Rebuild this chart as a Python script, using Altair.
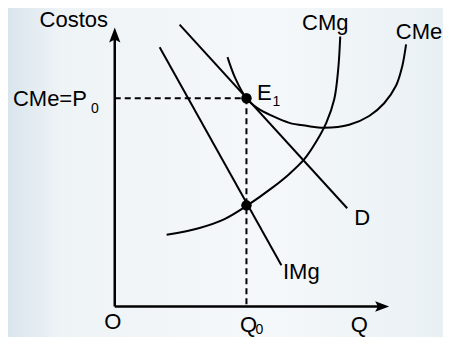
import altair as alt
import pandas as pd

W, H = 435, 329
X_DOM = [-107, 328]
Y_DOM = [-25, 304]

# axes (origin at 0,0), arrow heads
axis_name = ["yaxis", "yaxis", "xaxis", "xaxis"]
axis_x = [0, 0, 0, 268]
axis_y = [0, 277, 0, 0]
arrow_up = {"x": [0], "y": [276.5]}
arrow_right = {"x": [268], "y": [0]}

# demand and marginal revenue (straight lines)
d_x = [65, 233]
d_y = [287, 100]
img_x = [45, 167]
img_y = [264, 42]

# marginal cost curve
cmg_x = [52, 85, 110, 133, 158, 175, 190, 202, 212, 220, 224, 226]
cmg_y = [73, 80, 89, 103, 121, 135, 150, 168, 187, 211, 242, 275]

# average cost curve
cme_x = [113, 121, 132, 143, 158, 175, 192, 210, 235, 255, 270, 282, 288, 292]
cme_y = [254, 232, 212, 202, 194, 187, 184, 182, 185, 194, 207, 225, 244, 267]

# equilibrium values
q0 = 132
p0 = 212
img_at_q0 = 103

dash_name = ["h", "h", "v", "v"]
dash_x = [0, q0, q0, q0]
dash_y = [p0, p0, p0, 0]

dots_x = [q0, q0]
dots_y = [p0, img_at_q0]

label_text = ["Costos", "CMe=P", "0", "E", "1", "CMg", "CMe", "D", "IMg", "O", "Q", "0", "Q"]
label_x = [-41, -65, -20, 150, 162, 211, 305, 248, 187, -2, 134, 145, 245]
label_y = [292, 211, 201, 217, 208, 289, 280, 90, 35, -16, -19, -24, -19]
label_size = [22, 22, 14, 22, 14, 22, 22, 22, 22, 22, 22, 14, 22]

FONT = "Liberation Sans"

xs = alt.Scale(domain=X_DOM, nice=False, zero=False)
ys = alt.Scale(domain=Y_DOM, nice=False, zero=False)
X = alt.X("x:Q", scale=xs, axis=None)
Y = alt.Y("y:Q", scale=ys, axis=None)

bg = alt.Chart(alt.Data(values=[{"a": 1}])).mark_rect(
    color=alt.Gradient(
        gradient="linear",
        stops=[
            alt.GradientStop(color="#d9e5ed", offset=0),
            alt.GradientStop(color="#eef3f6", offset=0.12),
            alt.GradientStop(color="#f5f8fa", offset=0.6),
            alt.GradientStop(color="#e9f0f4", offset=1),
        ],
        x1=0, x2=1, y1=0, y2=0,
    )
).encode(x=alt.value(0), x2=alt.value(W), y=alt.value(0), y2=alt.value(H))

axes_df = pd.DataFrame({"name": axis_name, "x": axis_x, "y": axis_y})
axes = alt.Chart(axes_df).mark_line(color="black", strokeWidth=2.5).encode(
    x=X, y=Y, detail="name:N"
)
arr_up = alt.Chart(pd.DataFrame(arrow_up)).mark_point(
    shape="M0,-1L0.75,1L0,0.6L-0.75,1Z", filled=True, color="black", opacity=1, size=225
).encode(x=X, y=Y)
arr_right = alt.Chart(pd.DataFrame(arrow_right)).mark_point(
    shape="M1,0L-1,0.75L-0.6,0L-1,-0.75Z", filled=True, color="black", opacity=1, size=196
).encode(x=X, y=Y)

straight_df = pd.DataFrame({
    "name": ["D"] * 2 + ["IMg"] * 2,
    "x": d_x + img_x,
    "y": d_y + img_y,
})
straight = alt.Chart(straight_df).mark_line(color="black", strokeWidth=2).encode(
    x=X, y=Y, detail="name:N"
)

curves_df = pd.DataFrame({
    "name": ["CMg"] * len(cmg_x) + ["CMe"] * len(cme_x),
    "x": cmg_x + cme_x,
    "y": cmg_y + cme_y,
})
curves = alt.Chart(curves_df).mark_line(
    color="black", strokeWidth=2, interpolate="catmull-rom"
).encode(x=X, y=Y, detail="name:N", order="x:Q")

dash_df = pd.DataFrame({"name": dash_name, "x": dash_x, "y": dash_y})
dashes = alt.Chart(dash_df).mark_line(
    color="black", strokeWidth=2, strokeDash=[6, 4]
).encode(x=X, y=Y, detail="name:N")

dots = alt.Chart(pd.DataFrame({"x": dots_x, "y": dots_y})).mark_circle(
    color="black", opacity=1, size=110
).encode(x=X, y=Y)

labels_df = pd.DataFrame({"t": label_text, "x": label_x, "y": label_y, "s": label_size})
labels = alt.Chart(labels_df).mark_text(
    font=FONT, color="black", align="center", baseline="middle"
).encode(x=X, y=Y, text="t:N", size=alt.Size("s:Q", scale=None, legend=None))

chart = alt.layer(
    bg, dashes, axes, arr_up, arr_right, straight, curves, dots, labels
).properties(
    width=W, height=H, padding=0,
    autosize=alt.AutoSizeParams(type="fit", contains="padding"),
    background="#f1f5f8",
).configure_view(stroke=None)

chart.save("out.html", embed_options={"renderer": "svg", "actions": False})
